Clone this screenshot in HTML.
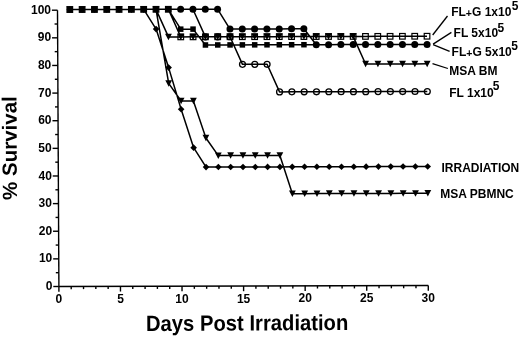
<!DOCTYPE html>
<html><head><meta charset="utf-8"><style>
html,body{margin:0;padding:0;background:#fff;}
body{width:520px;height:337px;overflow:hidden;}
svg{display:block;filter:grayscale(1);}
</style></head><body>
<svg width="520" height="337" viewBox="0 0 520 337">
<rect width="520" height="337" fill="#fff"/>
<g stroke="#000" stroke-width="1.4" stroke-linecap="butt"><line x1="57.5" y1="10.2" x2="58.9" y2="286.5"/><line x1="58.9" y1="286.5" x2="428.29" y2="285.5"/><line x1="53.3" y1="286.5" x2="58.9" y2="286.5"/><line x1="55.83" y1="272.69" x2="58.83" y2="272.69"/><line x1="53.16" y1="258.87" x2="58.76" y2="258.87"/><line x1="55.69" y1="245.06" x2="58.69" y2="245.06"/><line x1="53.02" y1="231.24" x2="58.62" y2="231.24"/><line x1="55.55" y1="217.43" x2="58.55" y2="217.43"/><line x1="52.88" y1="203.61" x2="58.48" y2="203.61"/><line x1="55.41" y1="189.8" x2="58.41" y2="189.8"/><line x1="52.74" y1="175.98" x2="58.34" y2="175.98"/><line x1="55.27" y1="162.17" x2="58.27" y2="162.17"/><line x1="52.6" y1="148.35" x2="58.2" y2="148.35"/><line x1="55.13" y1="134.53" x2="58.13" y2="134.53"/><line x1="52.46" y1="120.72" x2="58.06" y2="120.72"/><line x1="54.99" y1="106.91" x2="57.99" y2="106.91"/><line x1="52.32" y1="93.09" x2="57.92" y2="93.09"/><line x1="54.85" y1="79.28" x2="57.85" y2="79.28"/><line x1="52.18" y1="65.46" x2="57.78" y2="65.46"/><line x1="54.71" y1="51.65" x2="57.71" y2="51.65"/><line x1="52.04" y1="37.83" x2="57.64" y2="37.83"/><line x1="54.57" y1="24.01" x2="57.57" y2="24.01"/><line x1="51.9" y1="10.2" x2="57.5" y2="10.2"/><line x1="58.9" y1="286.5" x2="58.9" y2="291.7"/><line x1="71.21" y1="286.47" x2="71.21" y2="289.17"/><line x1="83.53" y1="286.43" x2="83.53" y2="289.13"/><line x1="95.84" y1="286.4" x2="95.84" y2="289.1"/><line x1="108.15" y1="286.37" x2="108.15" y2="289.07"/><line x1="120.47" y1="286.33" x2="120.47" y2="291.53"/><line x1="132.78" y1="286.3" x2="132.78" y2="289"/><line x1="145.09" y1="286.27" x2="145.09" y2="288.97"/><line x1="157.4" y1="286.23" x2="157.4" y2="288.93"/><line x1="169.72" y1="286.2" x2="169.72" y2="288.9"/><line x1="182.03" y1="286.17" x2="182.03" y2="291.37"/><line x1="194.34" y1="286.13" x2="194.34" y2="288.83"/><line x1="206.66" y1="286.1" x2="206.66" y2="288.8"/><line x1="218.97" y1="286.07" x2="218.97" y2="288.77"/><line x1="231.28" y1="286.03" x2="231.28" y2="288.73"/><line x1="243.6" y1="286" x2="243.6" y2="291.2"/><line x1="255.91" y1="285.97" x2="255.91" y2="288.67"/><line x1="268.22" y1="285.93" x2="268.22" y2="288.63"/><line x1="280.53" y1="285.9" x2="280.53" y2="288.6"/><line x1="292.85" y1="285.87" x2="292.85" y2="288.57"/><line x1="305.16" y1="285.83" x2="305.16" y2="291.03"/><line x1="317.47" y1="285.8" x2="317.47" y2="288.5"/><line x1="329.79" y1="285.77" x2="329.79" y2="288.47"/><line x1="342.1" y1="285.73" x2="342.1" y2="288.43"/><line x1="354.41" y1="285.7" x2="354.41" y2="288.4"/><line x1="366.72" y1="285.67" x2="366.72" y2="290.87"/><line x1="379.04" y1="285.63" x2="379.04" y2="288.33"/><line x1="391.35" y1="285.6" x2="391.35" y2="288.3"/><line x1="403.66" y1="285.57" x2="403.66" y2="288.27"/><line x1="415.98" y1="285.53" x2="415.98" y2="288.23"/><line x1="428.29" y1="285.5" x2="428.29" y2="290.7"/></g>
<g font-family="Liberation Sans, sans-serif" font-weight="bold" font-size="12" fill="#000"><text x="52.4" y="290.1" text-anchor="end">0</text><text x="52.26" y="262.47" text-anchor="end">10</text><text x="52.12" y="234.84" text-anchor="end">20</text><text x="51.98" y="207.21" text-anchor="end">30</text><text x="51.84" y="179.58" text-anchor="end">40</text><text x="51.7" y="151.95" text-anchor="end">50</text><text x="51.56" y="124.32" text-anchor="end">60</text><text x="51.42" y="96.69" text-anchor="end">70</text><text x="51.28" y="69.06" text-anchor="end">80</text><text x="51.14" y="41.43" text-anchor="end">90</text><text x="51" y="13.8" text-anchor="end">100</text><text x="58.9" y="303" text-anchor="middle">0</text><text x="120.47" y="302.83" text-anchor="middle">5</text><text x="182.03" y="302.67" text-anchor="middle">10</text><text x="243.6" y="302.5" text-anchor="middle">15</text><text x="305.16" y="302.33" text-anchor="middle">20</text><text x="366.72" y="302.17" text-anchor="middle">25</text><text x="428.29" y="302" text-anchor="middle">30</text></g>
<path d="M69.81 9.57 L82.13 9.53 L94.44 9.5 L106.75 9.47 L119.06 9.43 L131.38 9.4 L143.69 9.37 L156 9.33 L168.69 83.35 L181.09 101 L193.41 100.97 L205.91 137.96 L218.31 155.61 L230.62 155.57 L242.94 155.54 L255.25 155.51 L267.56 155.47 L279.88 155.44 L292.38 193.67 L304.7 193.64 L317.01 193.61 L329.32 193.57 L341.63 193.54 L353.95 193.51 L366.26 193.47 L378.57 193.44 L390.89 193.41 L403.2 193.37 L415.51 193.34 L427.83 193.31 M69.81 9.57 L82.13 9.53 L94.44 9.5 L106.75 9.47 L119.06 9.43 L131.38 9.4 L143.69 9.37 L156.1 29.09 L168.61 67.6 L181.14 109.29 L193.64 147.66 L206.06 167.08 L218.37 167.04 L230.68 167.01 L242.99 166.98 L255.31 166.95 L267.62 166.91 L279.93 166.88 L292.25 166.85 L304.56 166.81 L316.87 166.78 L329.19 166.75 L341.5 166.71 L353.81 166.68 L366.12 166.65 L378.44 166.61 L390.75 166.58 L403.06 166.55 L415.38 166.51 L427.69 166.48 M69.81 9.57 L82.13 9.53 L94.44 9.5 L106.75 9.47 L119.06 9.43 L131.38 9.4 L143.69 9.37 L156 9.33 L168.32 9.3 L180.63 9.27 L192.94 9.23 L205.4 36.83 L217.71 36.8 L230.02 36.76 L242.48 64.36 L254.79 64.33 L267.1 64.29 L279.55 91.89 L291.87 91.86 L304.18 91.82 L316.49 91.79 L328.81 91.76 L341.12 91.72 L353.43 91.69 L365.74 91.66 L378.06 91.62 L390.37 91.59 L402.68 91.56 L415 91.52 L427.31 91.49 M69.81 9.57 L82.13 9.53 L94.44 9.5 L106.75 9.47 L119.06 9.43 L131.38 9.4 L143.69 9.37 L156 9.33 L168.46 36.93 L180.77 36.9 L193.08 36.86 L205.4 36.83 L217.71 36.8 L230.02 36.76 L242.34 36.73 L254.65 36.7 L266.96 36.66 L279.27 36.63 L291.59 36.6 L303.9 36.56 L316.21 36.53 L328.53 36.5 L340.84 36.46 L353.15 36.43 L365.6 64.03 L377.92 63.99 L390.23 63.96 L402.54 63.93 L414.86 63.89 L427.17 63.86 M69.81 9.57 L82.13 9.53 L94.44 9.5 L106.75 9.47 L119.06 9.43 L131.38 9.4 L143.69 9.37 L156 9.33 L168.32 9.3 L180.77 36.9 L193.08 36.86 L205.4 36.83 L217.71 36.8 L230.02 36.76 L242.34 36.73 L254.65 36.7 L266.96 36.66 L279.27 36.63 L291.59 36.6 L303.9 36.56 L316.21 36.53 L328.53 36.5 L340.84 36.46 L353.15 36.43 L365.46 36.4 L377.78 36.36 L390.09 36.33 L402.4 36.3 L414.72 36.26 L427.03 36.23 M69.81 9.57 L82.13 9.53 L94.44 9.5 L106.75 9.47 L119.06 9.43 L131.38 9.4 L143.69 9.37 L156 9.33 L168.32 9.3 L180.63 9.27 L192.94 9.23 L205.26 9.2 L217.57 9.17 L229.98 29.03 L242.3 28.99 L254.61 28.96 L266.92 28.93 L279.23 28.89 L291.55 28.86 L303.86 28.83 L316.25 44.68 L328.57 44.65 L340.88 44.61 L353.19 44.58 L365.51 44.55 L377.82 44.52 L390.13 44.48 L402.45 44.45 L414.76 44.42 L427.07 44.38 M69.81 9.57 L82.13 9.53 L94.44 9.5 L106.75 9.47 L119.06 9.43 L131.38 9.4 L143.69 9.37 L156 9.33 L168.32 9.3 L180.73 29.16 L193.04 29.13 L205.44 44.98 L217.75 44.95 L230.06 44.91 L242.38 44.88 L254.69 44.85 L267 44.81 L279.32 44.78 L291.63 44.75 L303.94 44.71 L316.25 44.68 L328.57 44.65 L340.88 44.61 L353.19 44.58 L365.51 44.55 L377.82 44.52 L390.13 44.48 L402.45 44.45 L414.76 44.42 L427.07 44.38" fill="none" stroke="#000" stroke-width="1.5" stroke-linejoin="round"/>
<polygon points="66.41,6.37 73.21,6.37 69.81,12.87" fill="#000"/>
<polygon points="78.73,6.33 85.53,6.33 82.13,12.83" fill="#000"/>
<polygon points="91.04,6.3 97.84,6.3 94.44,12.8" fill="#000"/>
<polygon points="103.35,6.27 110.15,6.27 106.75,12.77" fill="#000"/>
<polygon points="115.66,6.23 122.47,6.23 119.06,12.73" fill="#000"/>
<polygon points="127.98,6.2 134.78,6.2 131.38,12.7" fill="#000"/>
<polygon points="140.29,6.17 147.09,6.17 143.69,12.67" fill="#000"/>
<polygon points="152.6,6.13 159.4,6.13 156,12.63" fill="#000"/>
<polygon points="165.29,80.15 172.09,80.15 168.69,86.65" fill="#000"/>
<polygon points="177.69,97.8 184.49,97.8 181.09,104.3" fill="#000"/>
<polygon points="190.01,97.77 196.81,97.77 193.41,104.27" fill="#000"/>
<polygon points="202.51,134.76 209.31,134.76 205.91,141.26" fill="#000"/>
<polygon points="214.91,152.41 221.71,152.41 218.31,158.91" fill="#000"/>
<polygon points="227.22,152.37 234.02,152.37 230.62,158.87" fill="#000"/>
<polygon points="239.54,152.34 246.34,152.34 242.94,158.84" fill="#000"/>
<polygon points="251.85,152.31 258.65,152.31 255.25,158.81" fill="#000"/>
<polygon points="264.16,152.27 270.96,152.27 267.56,158.77" fill="#000"/>
<polygon points="276.48,152.24 283.28,152.24 279.88,158.74" fill="#000"/>
<polygon points="288.98,190.47 295.78,190.47 292.38,196.97" fill="#000"/>
<polygon points="301.3,190.44 308.1,190.44 304.7,196.94" fill="#000"/>
<polygon points="313.61,190.41 320.41,190.41 317.01,196.91" fill="#000"/>
<polygon points="325.92,190.37 332.72,190.37 329.32,196.87" fill="#000"/>
<polygon points="338.23,190.34 345.03,190.34 341.63,196.84" fill="#000"/>
<polygon points="350.55,190.31 357.35,190.31 353.95,196.81" fill="#000"/>
<polygon points="362.86,190.27 369.66,190.27 366.26,196.77" fill="#000"/>
<polygon points="375.17,190.24 381.97,190.24 378.57,196.74" fill="#000"/>
<polygon points="387.49,190.21 394.29,190.21 390.89,196.71" fill="#000"/>
<polygon points="399.8,190.17 406.6,190.17 403.2,196.67" fill="#000"/>
<polygon points="412.11,190.14 418.91,190.14 415.51,196.64" fill="#000"/>
<polygon points="424.43,190.11 431.23,190.11 427.83,196.61" fill="#000"/>
<polygon points="69.81,6.27 73.11,9.57 69.81,12.87 66.51,9.57" fill="#000"/>
<polygon points="82.13,6.23 85.43,9.53 82.13,12.83 78.83,9.53" fill="#000"/>
<polygon points="94.44,6.2 97.74,9.5 94.44,12.8 91.14,9.5" fill="#000"/>
<polygon points="106.75,6.17 110.05,9.47 106.75,12.77 103.45,9.47" fill="#000"/>
<polygon points="119.06,6.13 122.36,9.43 119.06,12.73 115.77,9.43" fill="#000"/>
<polygon points="131.38,6.1 134.68,9.4 131.38,12.7 128.08,9.4" fill="#000"/>
<polygon points="143.69,6.07 146.99,9.37 143.69,12.67 140.39,9.37" fill="#000"/>
<polygon points="156.1,25.79 159.4,29.09 156.1,32.39 152.8,29.09" fill="#000"/>
<polygon points="168.61,64.3 171.91,67.6 168.61,70.9 165.31,67.6" fill="#000"/>
<polygon points="181.14,105.99 184.44,109.29 181.14,112.59 177.84,109.29" fill="#000"/>
<polygon points="193.64,144.36 196.94,147.66 193.64,150.96 190.34,147.66" fill="#000"/>
<polygon points="206.06,163.78 209.36,167.08 206.06,170.38 202.76,167.08" fill="#000"/>
<polygon points="218.37,163.74 221.67,167.04 218.37,170.34 215.07,167.04" fill="#000"/>
<polygon points="230.68,163.71 233.98,167.01 230.68,170.31 227.38,167.01" fill="#000"/>
<polygon points="242.99,163.68 246.29,166.98 242.99,170.28 239.69,166.98" fill="#000"/>
<polygon points="255.31,163.65 258.61,166.95 255.31,170.25 252.01,166.95" fill="#000"/>
<polygon points="267.62,163.61 270.92,166.91 267.62,170.21 264.32,166.91" fill="#000"/>
<polygon points="279.93,163.58 283.23,166.88 279.93,170.18 276.63,166.88" fill="#000"/>
<polygon points="292.25,163.55 295.55,166.85 292.25,170.15 288.95,166.85" fill="#000"/>
<polygon points="304.56,163.51 307.86,166.81 304.56,170.11 301.26,166.81" fill="#000"/>
<polygon points="316.87,163.48 320.17,166.78 316.87,170.08 313.57,166.78" fill="#000"/>
<polygon points="329.19,163.45 332.49,166.75 329.19,170.05 325.89,166.75" fill="#000"/>
<polygon points="341.5,163.41 344.8,166.71 341.5,170.01 338.2,166.71" fill="#000"/>
<polygon points="353.81,163.38 357.11,166.68 353.81,169.98 350.51,166.68" fill="#000"/>
<polygon points="366.12,163.35 369.42,166.65 366.12,169.95 362.82,166.65" fill="#000"/>
<polygon points="378.44,163.31 381.74,166.61 378.44,169.91 375.14,166.61" fill="#000"/>
<polygon points="390.75,163.28 394.05,166.58 390.75,169.88 387.45,166.58" fill="#000"/>
<polygon points="403.06,163.25 406.36,166.55 403.06,169.85 399.76,166.55" fill="#000"/>
<polygon points="415.38,163.21 418.68,166.51 415.38,169.81 412.08,166.51" fill="#000"/>
<polygon points="427.69,163.18 430.99,166.48 427.69,169.78 424.39,166.48" fill="#000"/>
<circle cx="205.4" cy="36.83" r="2.95" fill="none" stroke="#000" stroke-width="1.3"/>
<circle cx="217.71" cy="36.8" r="2.95" fill="none" stroke="#000" stroke-width="1.3"/>
<circle cx="230.02" cy="36.76" r="2.95" fill="none" stroke="#000" stroke-width="1.3"/>
<circle cx="242.48" cy="64.36" r="2.95" fill="none" stroke="#000" stroke-width="1.3"/>
<circle cx="254.79" cy="64.33" r="2.95" fill="none" stroke="#000" stroke-width="1.3"/>
<circle cx="267.1" cy="64.29" r="2.95" fill="none" stroke="#000" stroke-width="1.3"/>
<circle cx="279.55" cy="91.89" r="2.95" fill="none" stroke="#000" stroke-width="1.3"/>
<circle cx="291.87" cy="91.86" r="2.95" fill="none" stroke="#000" stroke-width="1.3"/>
<circle cx="304.18" cy="91.82" r="2.95" fill="none" stroke="#000" stroke-width="1.3"/>
<circle cx="316.49" cy="91.79" r="2.95" fill="none" stroke="#000" stroke-width="1.3"/>
<circle cx="328.81" cy="91.76" r="2.95" fill="none" stroke="#000" stroke-width="1.3"/>
<circle cx="341.12" cy="91.72" r="2.95" fill="none" stroke="#000" stroke-width="1.3"/>
<circle cx="353.43" cy="91.69" r="2.95" fill="none" stroke="#000" stroke-width="1.3"/>
<circle cx="365.74" cy="91.66" r="2.95" fill="none" stroke="#000" stroke-width="1.3"/>
<circle cx="378.06" cy="91.62" r="2.95" fill="none" stroke="#000" stroke-width="1.3"/>
<circle cx="390.37" cy="91.59" r="2.95" fill="none" stroke="#000" stroke-width="1.3"/>
<circle cx="402.68" cy="91.56" r="2.95" fill="none" stroke="#000" stroke-width="1.3"/>
<circle cx="415" cy="91.52" r="2.95" fill="none" stroke="#000" stroke-width="1.3"/>
<circle cx="427.31" cy="91.49" r="2.95" fill="none" stroke="#000" stroke-width="1.3"/>
<rect x="67.01" y="6.77" width="5.6" height="5.6" fill="none" stroke="#000" stroke-width="1.2"/>
<rect x="79.33" y="6.73" width="5.6" height="5.6" fill="none" stroke="#000" stroke-width="1.2"/>
<rect x="91.64" y="6.7" width="5.6" height="5.6" fill="none" stroke="#000" stroke-width="1.2"/>
<rect x="103.95" y="6.67" width="5.6" height="5.6" fill="none" stroke="#000" stroke-width="1.2"/>
<rect x="116.27" y="6.63" width="5.6" height="5.6" fill="none" stroke="#000" stroke-width="1.2"/>
<rect x="128.58" y="6.6" width="5.6" height="5.6" fill="none" stroke="#000" stroke-width="1.2"/>
<rect x="140.89" y="6.57" width="5.6" height="5.6" fill="none" stroke="#000" stroke-width="1.2"/>
<rect x="153.2" y="6.53" width="5.6" height="5.6" fill="none" stroke="#000" stroke-width="1.2"/>
<rect x="165.52" y="6.5" width="5.6" height="5.6" fill="none" stroke="#000" stroke-width="1.2"/>
<rect x="177.97" y="34.1" width="5.6" height="5.6" fill="none" stroke="#000" stroke-width="1.2"/>
<rect x="190.28" y="34.06" width="5.6" height="5.6" fill="none" stroke="#000" stroke-width="1.2"/>
<rect x="202.6" y="34.03" width="5.6" height="5.6" fill="none" stroke="#000" stroke-width="1.2"/>
<rect x="214.91" y="34" width="5.6" height="5.6" fill="none" stroke="#000" stroke-width="1.2"/>
<rect x="227.22" y="33.96" width="5.6" height="5.6" fill="none" stroke="#000" stroke-width="1.2"/>
<rect x="239.54" y="33.93" width="5.6" height="5.6" fill="none" stroke="#000" stroke-width="1.2"/>
<rect x="251.85" y="33.9" width="5.6" height="5.6" fill="none" stroke="#000" stroke-width="1.2"/>
<rect x="264.16" y="33.86" width="5.6" height="5.6" fill="none" stroke="#000" stroke-width="1.2"/>
<rect x="276.47" y="33.83" width="5.6" height="5.6" fill="none" stroke="#000" stroke-width="1.2"/>
<rect x="288.79" y="33.8" width="5.6" height="5.6" fill="none" stroke="#000" stroke-width="1.2"/>
<rect x="301.1" y="33.76" width="5.6" height="5.6" fill="none" stroke="#000" stroke-width="1.2"/>
<rect x="313.41" y="33.73" width="5.6" height="5.6" fill="none" stroke="#000" stroke-width="1.2"/>
<rect x="325.73" y="33.7" width="5.6" height="5.6" fill="none" stroke="#000" stroke-width="1.2"/>
<rect x="338.04" y="33.66" width="5.6" height="5.6" fill="none" stroke="#000" stroke-width="1.2"/>
<rect x="350.35" y="33.63" width="5.6" height="5.6" fill="none" stroke="#000" stroke-width="1.2"/>
<rect x="362.66" y="33.6" width="5.6" height="5.6" fill="none" stroke="#000" stroke-width="1.2"/>
<rect x="374.98" y="33.56" width="5.6" height="5.6" fill="none" stroke="#000" stroke-width="1.2"/>
<rect x="387.29" y="33.53" width="5.6" height="5.6" fill="none" stroke="#000" stroke-width="1.2"/>
<rect x="399.6" y="33.5" width="5.6" height="5.6" fill="none" stroke="#000" stroke-width="1.2"/>
<rect x="411.92" y="33.46" width="5.6" height="5.6" fill="none" stroke="#000" stroke-width="1.2"/>
<rect x="424.23" y="33.43" width="5.6" height="5.6" fill="none" stroke="#000" stroke-width="1.2"/>
<polygon points="165.06,33.73 171.86,33.73 168.46,40.23" fill="#000"/>
<polygon points="177.37,33.7 184.17,33.7 180.77,40.2" fill="#000"/>
<polygon points="189.68,33.66 196.48,33.66 193.08,40.16" fill="#000"/>
<polygon points="202,33.63 208.8,33.63 205.4,40.13" fill="#000"/>
<polygon points="214.31,33.6 221.11,33.6 217.71,40.1" fill="#000"/>
<polygon points="226.62,33.56 233.42,33.56 230.02,40.06" fill="#000"/>
<polygon points="238.94,33.53 245.74,33.53 242.34,40.03" fill="#000"/>
<polygon points="251.25,33.5 258.05,33.5 254.65,40" fill="#000"/>
<polygon points="263.56,33.46 270.36,33.46 266.96,39.96" fill="#000"/>
<polygon points="275.87,33.43 282.67,33.43 279.27,39.93" fill="#000"/>
<polygon points="288.19,33.4 294.99,33.4 291.59,39.9" fill="#000"/>
<polygon points="300.5,33.36 307.3,33.36 303.9,39.86" fill="#000"/>
<polygon points="312.81,33.33 319.61,33.33 316.21,39.83" fill="#000"/>
<polygon points="325.13,33.3 331.93,33.3 328.53,39.8" fill="#000"/>
<polygon points="337.44,33.26 344.24,33.26 340.84,39.76" fill="#000"/>
<polygon points="349.75,33.23 356.55,33.23 353.15,39.73" fill="#000"/>
<polygon points="362.2,60.83 369,60.83 365.6,67.33" fill="#000"/>
<polygon points="374.52,60.79 381.32,60.79 377.92,67.29" fill="#000"/>
<polygon points="386.83,60.76 393.63,60.76 390.23,67.26" fill="#000"/>
<polygon points="399.14,60.73 405.94,60.73 402.54,67.23" fill="#000"/>
<polygon points="411.46,60.69 418.26,60.69 414.86,67.19" fill="#000"/>
<polygon points="423.77,60.66 430.57,60.66 427.17,67.16" fill="#000"/>
<circle cx="180.63" cy="9.27" r="3.5" fill="#000"/>
<circle cx="192.94" cy="9.23" r="3.5" fill="#000"/>
<circle cx="205.26" cy="9.2" r="3.5" fill="#000"/>
<circle cx="217.57" cy="9.17" r="3.5" fill="#000"/>
<circle cx="229.98" cy="29.03" r="3.5" fill="#000"/>
<circle cx="242.3" cy="28.99" r="3.5" fill="#000"/>
<circle cx="254.61" cy="28.96" r="3.5" fill="#000"/>
<circle cx="266.92" cy="28.93" r="3.5" fill="#000"/>
<circle cx="279.23" cy="28.89" r="3.5" fill="#000"/>
<circle cx="291.55" cy="28.86" r="3.5" fill="#000"/>
<circle cx="303.86" cy="28.83" r="3.5" fill="#000"/>
<circle cx="316.25" cy="44.68" r="3.5" fill="#000"/>
<circle cx="328.57" cy="44.65" r="3.5" fill="#000"/>
<circle cx="340.88" cy="44.61" r="3.5" fill="#000"/>
<circle cx="353.19" cy="44.58" r="3.5" fill="#000"/>
<circle cx="365.51" cy="44.55" r="3.5" fill="#000"/>
<circle cx="377.82" cy="44.52" r="3.5" fill="#000"/>
<circle cx="390.13" cy="44.48" r="3.5" fill="#000"/>
<circle cx="402.45" cy="44.45" r="3.5" fill="#000"/>
<circle cx="414.76" cy="44.42" r="3.5" fill="#000"/>
<circle cx="427.07" cy="44.38" r="3.5" fill="#000"/>
<rect x="67.06" y="6.82" width="5.5" height="5.5" fill="#000"/>
<rect x="79.38" y="6.78" width="5.5" height="5.5" fill="#000"/>
<rect x="91.69" y="6.75" width="5.5" height="5.5" fill="#000"/>
<rect x="104" y="6.72" width="5.5" height="5.5" fill="#000"/>
<rect x="116.31" y="6.68" width="5.5" height="5.5" fill="#000"/>
<rect x="128.63" y="6.65" width="5.5" height="5.5" fill="#000"/>
<rect x="140.94" y="6.62" width="5.5" height="5.5" fill="#000"/>
<rect x="153.25" y="6.58" width="5.5" height="5.5" fill="#000"/>
<rect x="165.57" y="6.55" width="5.5" height="5.5" fill="#000"/>
<rect x="177.98" y="26.41" width="5.5" height="5.5" fill="#000"/>
<rect x="190.29" y="26.38" width="5.5" height="5.5" fill="#000"/>
<rect x="202.69" y="42.23" width="5.5" height="5.5" fill="#000"/>
<rect x="215" y="42.2" width="5.5" height="5.5" fill="#000"/>
<rect x="227.31" y="42.16" width="5.5" height="5.5" fill="#000"/>
<rect x="239.63" y="42.13" width="5.5" height="5.5" fill="#000"/>
<rect x="251.94" y="42.1" width="5.5" height="5.5" fill="#000"/>
<rect x="264.25" y="42.06" width="5.5" height="5.5" fill="#000"/>
<rect x="276.57" y="42.03" width="5.5" height="5.5" fill="#000"/>
<rect x="288.88" y="42" width="5.5" height="5.5" fill="#000"/>
<rect x="301.19" y="41.96" width="5.5" height="5.5" fill="#000"/>
<g stroke="#000" stroke-width="1.3"><line x1="432.7" y1="35" x2="447.5" y2="16"/><line x1="433.1" y1="44.1" x2="451.4" y2="32.4"/><line x1="433.1" y1="44.6" x2="449.6" y2="51.4"/><line x1="432.5" y1="63.7" x2="447.9" y2="68.5"/></g>
<g font-family="Liberation Sans, sans-serif" font-weight="bold" font-size="12" fill="#000"><text x="451.2" y="16.2">FL<tspan font-size="10.5" dy="0.9">+</tspan><tspan dy="-0.9">G 1x10</tspan></text><text x="511.7" y="9.9">5</text><text x="453.6" y="36.9">FL 5x10</text><text x="497.4" y="31.6">5</text><text x="451.6" y="56">FL<tspan font-size="10.5" dy="0.9">+</tspan><tspan dy="-0.9">G 5x10</tspan></text><text x="511.2" y="50.2">5</text><text x="449.2" y="75.0">MSA BM</text><text x="449.2" y="96.5">FL 1x10</text><text x="492.7" y="90.4">5</text><text x="441.5" y="172.0">IRRADIATION</text><text x="440.2" y="197.7">MSA PBMNC</text></g>
<text transform="translate(145.9,331.0) rotate(-0.29) scale(0.921,1)" font-family="Liberation Sans, sans-serif" font-weight="bold" font-size="22" fill="#000">Days Post Irradiation</text>
<text transform="translate(16.9,199.9) rotate(-90.2)" x="0" y="0" font-family="Liberation Sans, sans-serif" font-weight="bold" font-size="20.5" fill="#000">% Survival</text>
</svg>
</body></html>
